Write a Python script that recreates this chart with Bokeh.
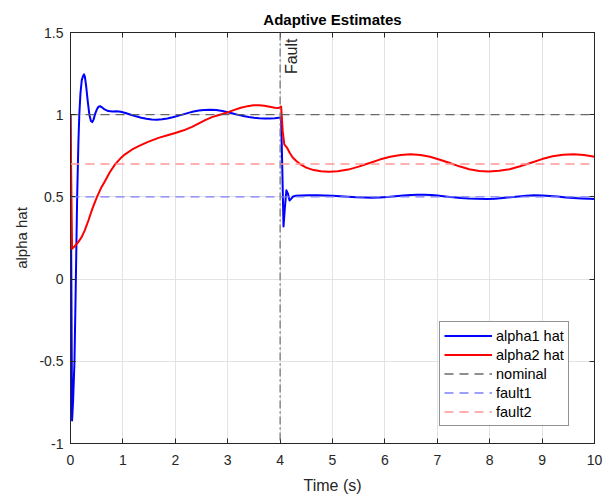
from bokeh.plotting import figure
from bokeh.models import Range1d, FixedTicker, LinearAxis, Span, Legend, CustomLabelingPolicy
from bokeh.core.properties import value
from bokeh.embed import file_html
from bokeh.resources import INLINE

# ---------------- data ----------------
alpha1_t = [0.00, 0.03, 0.05, 0.076, 0.10, 0.127, 0.15, 0.168, 0.19, 0.215, 0.24, 0.258, 0.275,
            0.30, 0.33, 0.36, 0.39, 0.416, 0.44, 0.47, 0.50, 0.53, 0.563, 0.60, 0.65, 0.72, 0.80,
            0.88, 0.96, 1.05, 1.15, 1.25, 1.35, 1.45, 1.55, 1.65, 1.75, 1.85, 1.95, 2.05, 2.15,
            2.25, 2.35, 2.45, 2.55, 2.67, 2.78, 2.9, 3.0, 3.1, 3.2, 3.3, 3.4, 3.5, 3.6, 3.7, 3.8,
            3.9, 3.97, 4.02, 4.04, 4.065, 4.09, 4.12, 4.15, 4.18, 4.21, 4.25, 4.3, 4.4, 4.55, 4.7,
            4.85, 5.0, 5.15, 5.3, 5.45, 5.6, 5.75, 5.9, 6.05, 6.2, 6.35, 6.5, 6.62, 6.75, 6.88,
            7.0, 7.15, 7.3, 7.45, 7.6, 7.75, 7.95, 8.1, 8.25, 8.4, 8.55, 8.7, 8.85, 9.0, 9.15,
            9.3, 9.45, 9.6, 9.75, 9.9, 10.0]
alpha1_v = [1.0, -0.86, -0.74, -0.5, -0.05, 0.5, 0.82, 1.0, 1.13, 1.21, 1.235, 1.245, 1.23,
            1.17, 1.08, 1.0, 0.962, 0.955, 0.97, 1.005, 1.03, 1.047, 1.052, 1.045, 1.032, 1.022,
            1.02, 1.021, 1.018, 1.01, 1.0, 0.99, 0.982, 0.975, 0.971, 0.97, 0.972, 0.977, 0.984,
            0.993, 1.002, 1.011, 1.019, 1.025, 1.029, 1.03, 1.028, 1.022, 1.015, 1.007, 0.999,
            0.992, 0.986, 0.981, 0.978, 0.977, 0.977, 0.979, 0.981, 0.982, 0.7, 0.32, 0.43, 0.54,
            0.52, 0.478, 0.488, 0.503, 0.507, 0.508, 0.51, 0.51, 0.509, 0.507, 0.504, 0.501,
            0.498, 0.496, 0.495, 0.496, 0.5, 0.504, 0.508, 0.511, 0.513, 0.513, 0.511, 0.508,
            0.503, 0.498, 0.494, 0.49, 0.488, 0.487, 0.489, 0.493, 0.498, 0.503, 0.507, 0.51,
            0.509, 0.506, 0.502, 0.497, 0.493, 0.49, 0.488, 0.487]

alpha2_t = [0.00, 0.03, 0.08, 0.14, 0.21, 0.27, 0.34, 0.42, 0.50, 0.58, 0.66, 0.75, 0.85, 0.95,
            1.04, 1.17, 1.30, 1.48, 1.68, 1.85, 2.0, 2.16, 2.32, 2.45, 2.57, 2.7, 2.85, 2.98, 3.1,
            3.25, 3.38, 3.49, 3.6, 3.7, 3.8, 3.9, 3.97, 4.02, 4.05, 4.08, 4.13, 4.18, 4.24, 4.31,
            4.38, 4.5, 4.64, 4.78, 4.93, 5.1, 5.3, 5.5, 5.71, 5.9, 6.1, 6.3, 6.49, 6.68, 6.86,
            7.05, 7.24, 7.42, 7.61, 7.8, 7.98, 8.18, 8.38, 8.58, 8.79, 9.0, 9.2, 9.4, 9.6, 9.8,
            10.0]
alpha2_v = [1.0, 0.185, 0.2, 0.222, 0.254, 0.295, 0.355, 0.43, 0.496, 0.552, 0.597, 0.65, 0.698,
            0.733, 0.759, 0.787, 0.809, 0.835, 0.859, 0.875, 0.889, 0.905, 0.926, 0.947, 0.967,
            0.985, 1.0, 1.012, 1.026, 1.042, 1.052, 1.057, 1.057, 1.054, 1.048, 1.042, 1.04, 1.05,
            0.9, 0.82, 0.8, 0.77, 0.74, 0.718, 0.70, 0.678, 0.663, 0.656, 0.653, 0.656, 0.666,
            0.684, 0.706, 0.727, 0.744, 0.755, 0.759, 0.755, 0.744, 0.726, 0.706, 0.686, 0.668,
            0.658, 0.655, 0.659, 0.668, 0.686, 0.708, 0.73, 0.747, 0.757, 0.76, 0.755, 0.744]

nominal_value = 1.0
fault1_value = 0.5
fault2_value = 0.7
fault_time = 4.0
t_span = [0, 10]

x_ticks = [0, 1, 2, 3, 4, 5, 6, 7, 8, 9, 10]
y_ticks = [-1, -0.5, 0, 0.5, 1, 1.5]
y_tick_labels = ["-1", "-0.5", "0", "0.5", "1", "1.5"]

# ---------------- figure ----------------
FONT = "Liberation Sans"
AX = "#262626"

p = figure(width=604, height=497, output_backend="svg", toolbar_location=None,
           x_range=Range1d(0, 10), y_range=Range1d(-1, 1.5),
           min_border_left=70, min_border_right=10, min_border_top=32, min_border_bottom=54)

p.title.text = "Adaptive Estimates"
p.title.align = "center"
p.title.text_font = FONT
p.title.text_font_size = "15px"
p.title.text_font_style = "bold"
p.title.text_color = "#000000"

p.background_fill_color = "white"
p.border_fill_color = "white"
p.outline_line_color = AX
p.outline_line_width = 1

def style_axis(ax):
    ax.axis_line_color = AX
    ax.major_tick_line_color = AX
    ax.major_tick_in = 5
    ax.major_tick_out = 0
    ax.minor_tick_line_color = None
    ax.major_label_text_font = FONT
    ax.major_label_text_font_size = "14px"
    ax.major_label_text_color = AX
    ax.axis_label_text_font = FONT
    ax.axis_label_text_font_style = "normal"
    ax.axis_label_text_color = AX

xa = p.xaxis[0]
xa.ticker = FixedTicker(ticks=x_ticks)
xa.axis_label = "Time (s)"
style_axis(xa)
xa.axis_label_text_font_size = "16px"
xa.major_label_standoff = 11
xa.axis_label_standoff = 9

ya = p.yaxis[0]
ya.ticker = FixedTicker(ticks=y_ticks)
ya.major_label_overrides = {t: s for t, s in zip(y_ticks, y_tick_labels)}
ya.axis_label = "alpha hat"
style_axis(ya)
ya.axis_label_text_font_size = "15px"
ya.major_label_standoff = 7
ya.axis_label_standoff = 6

# box ticks on top and right (labels filtered out)
no_labels = """
try { const n = indices.size; for (let i = 0; i < n; i++) { indices.unset(i); } } catch (e) {}
try { indices.clear(); } catch (e) {}
return indices;
"""

def box_axis(ticks):
    ax = LinearAxis(ticker=FixedTicker(ticks=ticks),
                    major_label_policy=CustomLabelingPolicy(code=no_labels))
    style_axis(ax)
    ax.major_label_text_font_size = "0px"
    ax.major_label_standoff = 0
    return ax

p.add_layout(box_axis(x_ticks), "above")
p.add_layout(box_axis(y_ticks), "right")

p.xgrid.ticker = FixedTicker(ticks=x_ticks)
p.ygrid.ticker = FixedTicker(ticks=y_ticks)
p.xgrid.grid_line_color = "#e3e3e3"
p.ygrid.grid_line_color = "#e3e3e3"

# Curves and reference lines
r1 = p.line(alpha1_t, alpha1_v, line_color="#0000ff", line_width=2, line_join="round")
r2 = p.line(alpha2_t, alpha2_v, line_color="#ff0000", line_width=2, line_join="round")
r3 = p.line(t_span, [nominal_value] * 2, line_color="#5a5a5a", line_width=1.3,
            line_dash="9 6", line_alpha=0.9)
r4 = p.line(t_span, [fault1_value] * 2, line_color="#7f7fff", line_width=1.3, line_dash="9 6")
r5 = p.line(t_span, [fault2_value] * 2, line_color="#ff9696", line_width=1.3, line_dash="9 6")

# Fault marker
p.add_layout(Span(location=fault_time, dimension="height", line_color="#707070",
                  line_width=1.2, line_dash="8 3 2 3"))
p.text(x=[fault_time], y=[1.5], text=["Fault"], angle=1.5708,
       text_align="right", text_baseline="top", x_offset=3, y_offset=6,
       text_font=value(FONT), text_font_size="16px", text_color=AX)

legend = Legend(items=[("alpha1 hat", [r1]), ("alpha2 hat", [r2]), ("nominal", [r3]),
                       ("fault1", [r4]), ("fault2", [r5])],
                location=(369, 17))
legend.label_text_font = FONT
legend.label_text_font_size = "14.5px"
legend.label_text_color = "#000000"
legend.glyph_width = 48
legend.glyph_height = 19
legend.label_height = 19
legend.label_width = 63
legend.label_standoff = 4
legend.spacing = 0
legend.padding = 4
legend.margin = 0
legend.border_line_color = AX
legend.border_line_width = 1
legend.background_fill_color = "white"
legend.background_fill_alpha = 1
p.add_layout(legend, "center")

open("out.html", "w").write(file_html(p, INLINE))
